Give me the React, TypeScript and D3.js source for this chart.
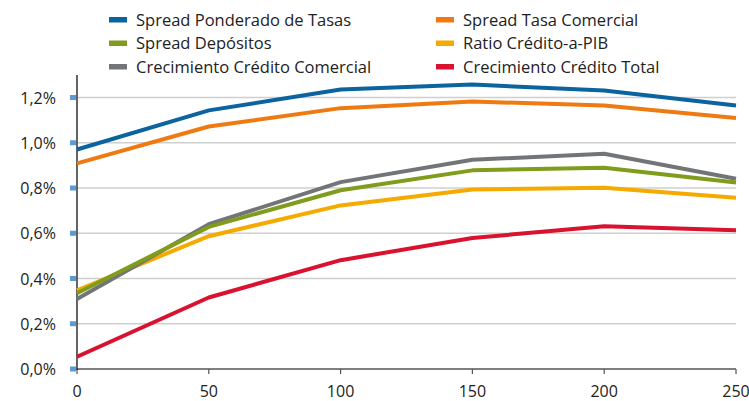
import React from "react";
import * as d3 from "d3";

// Horizontal position of each observation
const xValues = [0, 50, 100, 150, 200, 250];

// Series values in percent
const spreadPonderado = [0.97, 1.143, 1.235, 1.257, 1.231, 1.165];
const spreadComercial = [0.909, 1.072, 1.153, 1.182, 1.165, 1.109];
const spreadDepositos = [0.335, 0.628, 0.79, 0.878, 0.89, 0.824];
const ratioCreditoPib = [0.348, 0.587, 0.723, 0.793, 0.801, 0.757];
const crecComercial = [0.309, 0.64, 0.826, 0.925, 0.951, 0.841];
const crecTotal = [0.054, 0.316, 0.481, 0.579, 0.631, 0.613];

const seriesNames = [
  "Spread Ponderado de Tasas",
  "Spread Tasa Comercial",
  "Spread Depósitos",
  "Ratio Crédito-a-PIB",
  "Crecimiento Crédito Comercial",
  "Crecimiento Crédito Total",
];
const seriesValues = [
  spreadPonderado,
  spreadComercial,
  spreadDepositos,
  ratioCreditoPib,
  crecComercial,
  crecTotal,
];
const seriesColors = ["#0b63a0", "#ef7a12", "#7f9c1c", "#f5aa00", "#727578", "#d8122f"];

// Drawing order (back to front)
const drawOrder = [3, 4, 2, 5, 1, 0];

const yTicks = [0, 0.2, 0.4, 0.6, 0.8, 1.0, 1.2];
const xTicks = [0, 50, 100, 150, 200, 250];

const W = 749;
const H = 401;
const FONT = "'Open Sans', sans-serif";

export default function App() {
  const x = d3.scaleLinear().domain([0, 250]).range([77, 736]);
  const y = d3.scaleLinear().domain([0, 1.2]).range([369, 97.5]);
  const line = d3
    .line<number>()
    .x((_, i) => x(xValues[i]))
    .y((d) => y(d));
  const fmt = (v: number) => v.toFixed(1).replace(".", ",") + "%";

  return (
    <svg
      width={W}
      height={H}
      style={{ position: "absolute", left: 0, top: 0, background: "#fff" }}
      fontFamily={FONT}
    >
      {/* grid */}
      {yTicks.slice(1).map((t) => (
        <line key={t} x1={x(0)} x2={x(250)} y1={y(t)} y2={y(t)} stroke="#cfcfcf" strokeWidth={1.3} />
      ))}
      {/* y tick squares and labels */}
      {yTicks.map((t) => (
        <g key={t}>
          <rect x={70} y={y(t) - 2.5} width={6} height={5} fill="#5b9bd5" />
          <text x={56} y={y(t) + 6} textAnchor="end" fontSize={16} fill="#222">
            {fmt(t)}
          </text>
        </g>
      ))}
      {/* x axis */}
      <line x1={x(0)} x2={x(250)} y1={369} y2={369} stroke="#555" strokeWidth={1.5} />
      {xTicks.map((t) => (
        <g key={t}>
          <line x1={x(t)} x2={x(t)} y1={369} y2={374} stroke="#555" strokeWidth={1.2} />
          <text x={x(t)} y={397} textAnchor="middle" fontSize={16} fill="#222">
            {t}
          </text>
        </g>
      ))}
      {/* y axis line */}
      <line x1={x(0)} x2={x(0)} y1={75} y2={370} stroke="#111" strokeWidth={1.3} />
      {/* series */}
      {drawOrder.map((i) => (
        <path
          key={i}
          d={line(seriesValues[i]) || ""}
          fill="none"
          stroke={seriesColors[i]}
          strokeWidth={4}
          strokeLinejoin="round"
        />
      ))}
      {/* legend */}
      {seriesNames.map((name, i) => {
        const col = i % 2;
        const row = Math.floor(i / 2);
        const sx = col === 0 ? 109 : 436;
        const cy = 19.5 + row * 23.5;
        return (
          <g key={name}>
            <rect x={sx} y={cy - 2.5} width={18} height={5.5} fill={seriesColors[i]} />
            <text x={sx + 27} y={cy + 6} fontSize={16.5} fill="#222">
              {name}
            </text>
          </g>
        );
      })}
    </svg>
  );
}
